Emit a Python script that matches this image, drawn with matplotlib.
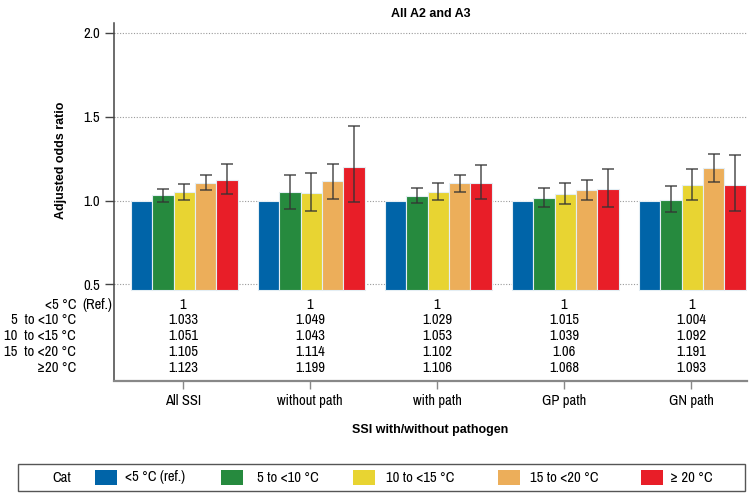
import numpy as np
import matplotlib.pyplot as plt
from matplotlib.patches import Rectangle
from matplotlib.transforms import blended_transform_factory

plt.rcParams['font.family'] = ['Archivo Narrow', 'Liberation Sans', 'DejaVu Sans']
FS = 10.5
BOLD = dict(family=['Liberation Sans', 'DejaVu Sans'], fontsize=9, fontweight='bold')
plt.rcParams['font.size'] = FS

groups = ['All SSI', 'without path', 'with path', 'GP path', 'GN path']
cats = ['<5 °C (ref.)', '5 to <10 °C', '10 to <15 °C', '15 to <20 °C', '≥ 20 °C']
row_labels = ['<5 °C', '5  to <10 °C', '10  to <15 °C', '15  to <20 °C', '≥20 °C']
colors = ['#0064a8', '#268a3e', '#e8d432', '#ecae5a', '#e81e28']

# odds ratios, one list per temperature category (rows of the table)
or_ref = [1, 1, 1, 1, 1]
or_5_10 = [1.033, 1.049, 1.029, 1.015, 1.004]
or_10_15 = [1.051, 1.043, 1.053, 1.039, 1.092]
or_15_20 = [1.105, 1.114, 1.102, 1.06, 1.191]
or_20 = [1.123, 1.199, 1.106, 1.068, 1.093]

# 95% CI
lo_5_10 = [0.990, 0.951, 0.986, 0.960, 0.931]
hi_5_10 = [1.071, 1.155, 1.077, 1.077, 1.089]
lo_10_15 = [1.006, 0.939, 1.004, 0.980, 1.006]
hi_10_15 = [1.099, 1.163, 1.103, 1.105, 1.185]
lo_15_20 = [1.064, 1.012, 1.052, 1.006, 1.110]
hi_15_20 = [1.151, 1.220, 1.153, 1.121, 1.280]
lo_20 = [1.038, 0.990, 1.010, 0.962, 0.939]
hi_20 = [1.218, 1.446, 1.212, 1.189, 1.270]

values = [or_ref, or_5_10, or_10_15, or_15_20, or_20]
lows = [None, lo_5_10, lo_10_15, lo_15_20, lo_20]
highs = [None, hi_5_10, hi_10_15, hi_15_20, hi_20]

W, H = 753, 497
fig = plt.figure(figsize=(W / 100, H / 100), dpi=100)
ax = fig.add_axes([114 / W, 1 - 380.7 / H, 633 / W, 358 / H])

base = 0.464
x = np.arange(len(groups))
w = 0.1685
for i, (vals, c) in enumerate(zip(values, colors)):
    xs = x + (i - 2) * w + 0.01
    v = np.array(vals, dtype=float)
    ax.bar(xs, v - base, bottom=base, width=w, color=c, edgecolor='#e4eef4',
           linewidth=0.8, zorder=2)
    if lows[i] is not None:
        err = [v - np.array(lows[i]), np.array(highs[i]) - v]
        ax.errorbar(xs, v, yerr=err, fmt='none', ecolor='#333333', elinewidth=1.1,
                    capsize=4, capthick=1.1, zorder=3, alpha=0.85)

ax.set_ylim(-0.074, 2.06)
ax.set_xlim(-0.543, 4.44)
ax.set_yticks([0.5, 1.0, 1.5, 2.0])
ax.set_yticklabels(['0.5', '1.0', '1.5', '2.0'])
ax.set_xticks(x)
ax.set_xticklabels(groups)
for yv in [0.5, 1.0, 1.5, 2.0]:
    ax.axhline(yv, color='#9a9a9a', linewidth=0.8, linestyle=(0, (1, 1.5)), zorder=1)

for s in ['top', 'right']:
    ax.spines[s].set_visible(False)
ax.spines['left'].set_color('#444444')
ax.spines['left'].set_linewidth(1.1)
ax.spines['bottom'].set_color('#888888')
ax.spines['bottom'].set_linewidth(1.6)
ax.tick_params(axis='y', length=6.5, width=1.0, color='#444444', pad=3.6, labelsize=FS)
ax.tick_params(axis='x', length=5.8, width=1.0, color='#888888', pad=3.5, labelsize=FS)

ax.set_title('All A2 and A3', pad=4, **BOLD)
ax.set_ylabel('Adjusted odds ratio', **BOLD)
ax.yaxis.set_label_coords(-0.074, 0.6165)
ax.set_xlabel('SSI with/without pathogen', **BOLD)
ax.xaxis.set_label_coords(0.5, -0.122)

# table of values under the bars
trans = blended_transform_factory(ax.transAxes, ax.transData)
for r, (lab, vals) in enumerate(zip(row_labels, values)):
    ry = 0.38 - 0.094 * r
    ax.text(-0.060, ry, lab, transform=trans, ha='right', va='center', fontsize=FS)
    for gi, v in enumerate(vals):
        ax.text(x[gi], ry, f'{v:g}', ha='center', va='center', fontsize=FS)
ax.text(-0.0506, 0.38, '(Ref.)', transform=trans, ha='left', va='center', fontsize=FS)

# legend box at the bottom, drawn by hand to match the fixed column cells
fig.patches.append(Rectangle((18 / W, 1 - 491 / H), (745 - 18) / W, 27 / H,
                             transform=fig.transFigure, fill=False,
                             edgecolor='#555555', linewidth=1.0))
ly = 1 - 477.5 / H
fig.text(62 / W, ly, 'Cat', ha='center', va='center', fontsize=FS)
patch_x = [95, 221, 353, 498, 641]
text_x = [125, 257, 386, 530, 670]
for px, tx, c, lab in zip(patch_x, text_x, colors, cats):
    fig.patches.append(Rectangle((px / W, 1 - 485 / H), 22 / W, 15 / H,
                                 transform=fig.transFigure, facecolor=c, edgecolor='none'))
    fig.text(tx / W, ly, lab, ha='left', va='center', fontsize=FS)

fig.savefig('out.png', dpi=100)
